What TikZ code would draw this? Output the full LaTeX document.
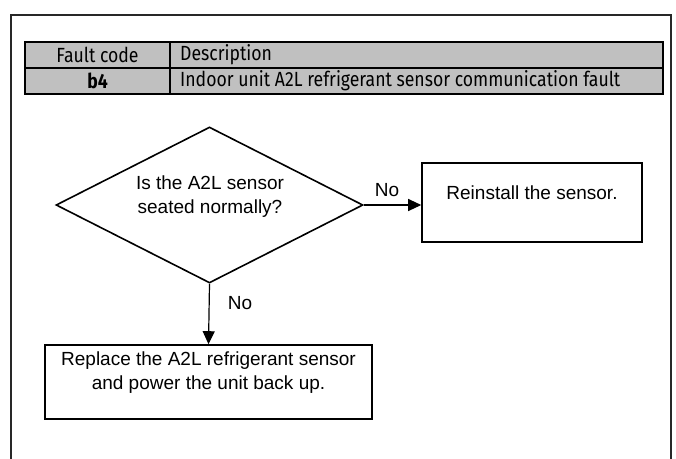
\documentclass[tikz,border=0pt]{standalone}
\usepackage{fontspec}
\setmainfont{Liberation Sans}
\newfontfamily\tabfont[FakeStretch=0.86]{Fira Sans}
\usetikzlibrary{arrows.meta,shapes.geometric}
\definecolor{tabgray}{RGB}{192,192,192}
\definecolor{framegray}{RGB}{40,40,40}
\begin{document}
\begin{tikzpicture}[x=1pt,y=-1pt,
  framepath/.style={draw=framegray, line width=1.5pt},
  cell/.style={draw=black, line width=1.4pt, fill=tabgray, inner sep=0pt, rectangle},
  celltext/.style={inner sep=0pt, font=\tabfont\fontsize{20.5}{22}\selectfont, text=black},
  flowbox/.style={draw=black, line width=1.6pt, inner sep=0pt, rectangle},
  decision/.style={draw=black, line width=1.6pt, inner sep=0pt, diamond, aspect=2},
  flowtext/.style={inner sep=0pt, align=center, font=\fontsize{19}{24}\selectfont},
  arr/.style={draw=black, line width=1.2pt, -{Triangle[length=13pt,width=12pt]}},
  lbl/.style={inner sep=0pt, font=\fontsize{19}{24}\selectfont}]
\useasboundingbox (0,0) rectangle (676,458);
\fill[white] (0,0) rectangle (676,458);
% outer frame
\coordinate (fbl) at (11,470);
\coordinate (ftl) at (11,15);
\coordinate (ftr) at (671,15);
\coordinate (fbr) at (671,470);
\draw[framepath] (fbl) -- (ftl) -- (ftr) -- (fbr);
% table
\node[cell, minimum width=145pt, minimum height=26pt] (h1) at (97.5,55) {};
\node[cell, minimum width=493pt, minimum height=26pt] (h2) at (416.5,55) {};
\node[cell, minimum width=145pt, minimum height=26pt] (r1) at (97.5,81) {};
\node[cell, minimum width=493pt, minimum height=26pt] (r2) at (416.5,81) {};
\node[celltext] (t1) at (h1.center) {Fault code};
\node[celltext, anchor=west] (t2) at (180,55) {Description};
\node[celltext, font=\tabfont\bfseries\fontsize{20.5}{22}\selectfont] (t3) at (r1.center) {b4};
\node[celltext, anchor=west] (t4) at (180,81) {Indoor unit A2L refrigerant sensor communication fault};
% flowchart
\node[decision, minimum width=307pt, minimum height=156pt] (dia) at (209.5,205) {};
\node[flowtext] (qtext) at (210,197) {Is the A2L sensor\\seated normally?};
\node[flowbox, minimum width=220pt, minimum height=79pt] (box1) at (532,202.5) {};
\node[flowtext] (b1text) at (532,193) {Reinstall the sensor.};
\node[flowbox, minimum width=327pt, minimum height=74pt] (box2) at (208.5,382) {};
\node[flowtext] (b2text) at (208.5,372.5) {Replace the A2L refrigerant sensor\\and power the unit back up.};
\draw[arr] (dia.east) -- (dia.east -| box1.west);
\draw[arr] (dia.south) -- (box2.north);
\node[lbl] (no1) at (387,190) {No};
\node[lbl] (no2) at (240,303) {No};
\end{tikzpicture}
\end{document}
